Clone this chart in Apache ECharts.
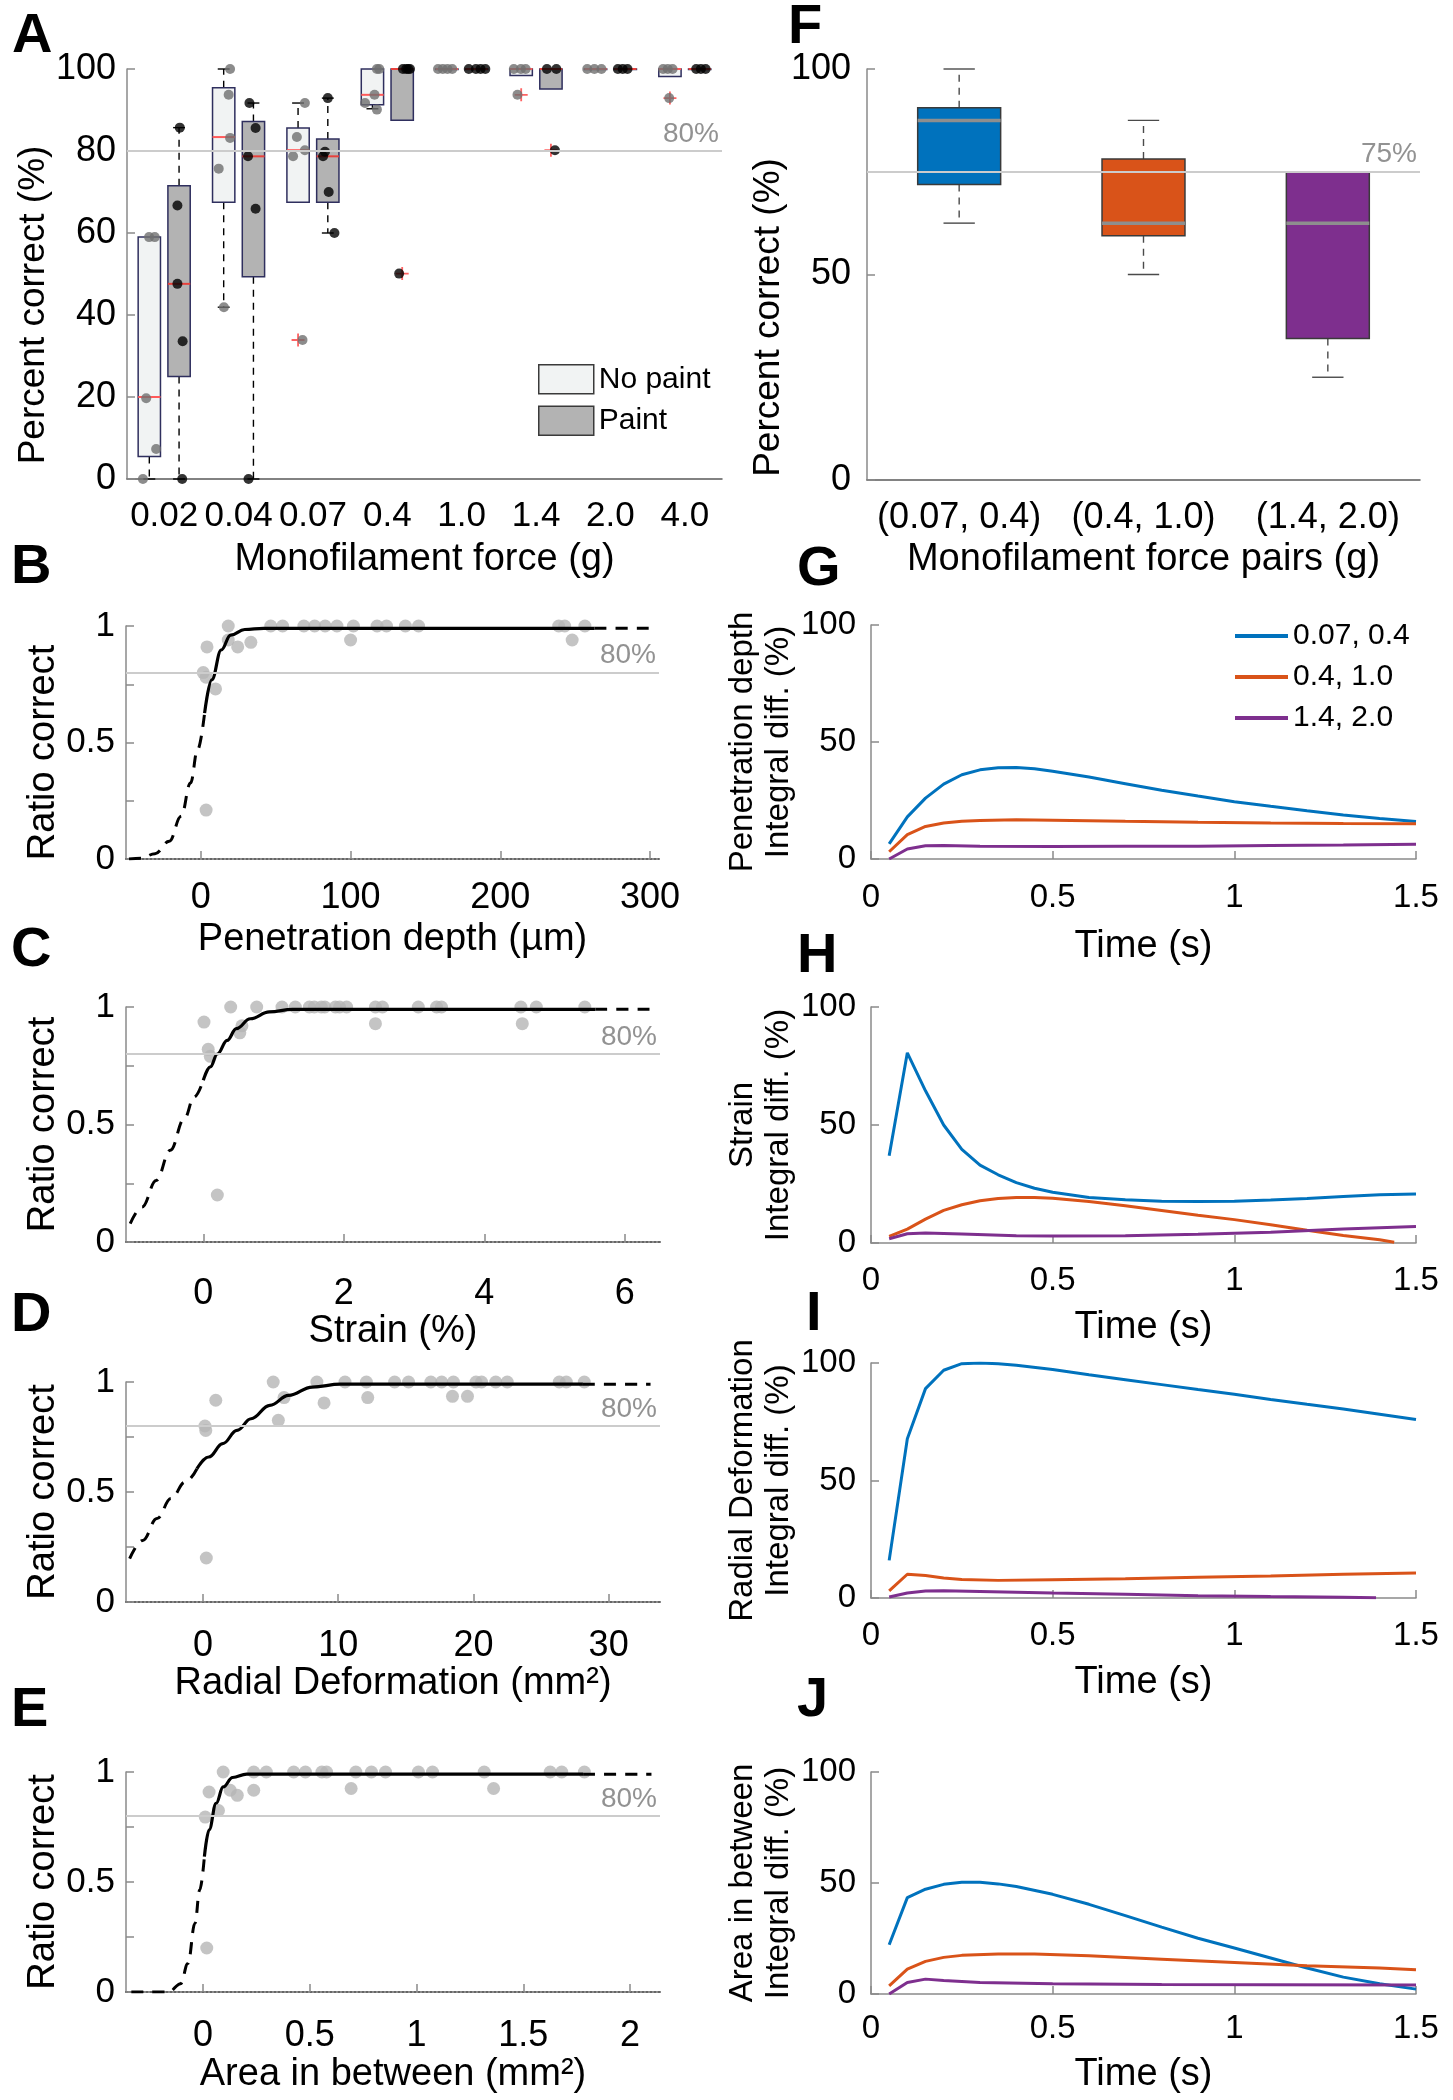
<!DOCTYPE html>
<html lang="en">
<head>
    <meta charset="UTF-8">
    <title>Monofilament discrimination</title>
    <script src="https://cdn.jsdelivr.net/npm/echarts@6.0.0/dist/echarts.min.js"></script>
    <style>
        html, body { margin: 0; padding: 0; background: #fff; }
        #main { width: 1453px; height: 2100px; }
    </style>
</head>
<body>
<div id="main"></div>
<script>
    // ---------- A: percent correct per monofilament ----------
    var forceLabels = ['0.02', '0.04', '0.07', '0.4', '1.0', '1.4', '2.0', '4.0'];
    // [lower whisker, q1, median, q3, upper whisker]
    var noPaintBox = [
        [0, 5.5, 20, 59, 59], [41.9, 67.5, 83.4, 95.4, 100], [78.7, 67.5, 80.2, 85.6, 91.7], [90.3, 91.3, 93.7, 100, 100],
        [100, 100, 100, 100, 100], [100, 98.4, 100, 100, 100], [100, 100, 100, 100, 100], [100, 98.2, 100, 100, 100]
    ];
    var paintBox = [
        [0, 25, 47.6, 71.5, 85.7], [0, 49.3, 78.7, 87.2, 91.7], [60, 67.5, 78.7, 82.9, 92.9], [100, 87.5, 100, 100, 100],
        [100, 100, 100, 100, 100], [100, 95.1, 100, 100, 100], [100, 100, 100, 100, 100], [100, 100, 100, 100, 100]
    ];
    var noPaintDots = [
        [0.714, 0], [0.758, 19.7], [0.797, 59], [0.873, 59], [0.892, 7.3],
        [1.733, 75.7], [1.803, 41.9], [1.867, 93.7], [1.886, 83.2], [1.886, 100],
        [2.733, 78.7], [2.784, 83.4], [2.86, 33.9], [2.892, 80.2], [2.892, 91.7],
        [3.701, 91.7], [3.828, 93.7], [3.86, 100], [3.86, 90.1], [3.892, 100],
        [4.682, 100], [4.746, 100], [4.809, 100], [4.873, 100],
        [5.701, 100], [5.75, 93.7], [5.796, 100], [5.86, 100],
        [6.688, 100], [6.784, 100], [6.879, 100],
        [7.708, 100], [7.771, 100], [7.79, 92.9], [7.835, 100]
    ];
    var paintDots = [
        [1.178, 66.7], [1.178, 47.6], [1.21, 85.7], [1.242, 0], [1.248, 33.6],
        [2.127, 78.7], [2.134, 0], [2.146, 91.7], [2.229, 85.6], [2.229, 65.9],
        [3.136, 78.7], [3.162, 79.8], [3.2, 92.9], [3.212, 70], [3.289, 60],
        [4.159, 50.1], [4.21, 100], [4.254, 100], [4.28, 100], [4.305, 100],
        [5.095, 100], [5.191, 100], [5.254, 100], [5.318, 100],
        [6.146, 100], [6.254, 80.2], [6.273, 100],
        [7.1, 100], [7.165, 100], [7.229, 100],
        [8.153, 100], [8.216, 100], [8.28, 100]
    ];
    // [force index (1-based), value]
    var noPaintOutliers = [[3, 33.9], [6, 93.7], [8, 92.9]];
    var paintOutliers = [[4, 50.1], [6, 80.2]];

    // ---------- F: force pairs ----------
    var pairLabels = ['(0.07, 0.4)', '(0.4, 1.0)', '(1.4, 2.0)'];
    var pairBox = [[62.5, 71.9, 87.5, 90.6, 100], [50, 59.4, 62.5, 78.1, 87.5], [25, 34.4, 62.5, 75, 75]];
    var pairColors = ['#0072BD', '#D95319', '#7E2F8E'];

    // ---------- B-E: ratio correct vs. skin mechanics ----------
    var depthPts = [[18.3, 1], [46.7, 1], [54.6, 1], [68.8, 1], [76, 1], [83, 1], [90.9, 1], [101.9, 1], [117.7, 1], [124, 1],
        [136.6, 1], [145.4, 1], [239, 1], [243, 1], [256.5, 1], [18.3, 0.94], [24.6, 0.91], [33.4, 0.93], [4.1, 0.91],
        [1.6, 0.8], [3.5, 0.78], [9.8, 0.73], [100, 0.94], [248, 0.94], [3.5, 0.21]];
    var depthLow = [[-48, 0], [-40, 0.003], [-30.6, 0.023], [-21.1, 0.076], [-13.2, 0.183], [-6.9, 0.326], [-2.2, 0.469], [2.5, 0.626]];
    var depthFit = [[2.5, 0.626], [7.3, 0.769], [13.6, 0.897], [19.9, 0.961], [29.3, 0.985], [42, 0.99], [263, 0.99]];
    var depthHigh = [[263, 0.99], [301, 0.99]];

    var strainPts = [[0.39, 1], [0.76, 1], [1.12, 1], [1.31, 1], [1.51, 1], [1.58, 1], [1.68, 1], [1.73, 1], [1.88, 1], [1.94, 1],
        [2.04, 1], [2.45, 1], [2.55, 1], [3.06, 1], [3.32, 1], [3.39, 1], [4.52, 1], [4.74, 1], [5.43, 1],
        [0.01, 0.936], [2.45, 0.929], [4.54, 0.929], [0.55, 0.92], [0.52, 0.89], [0.07, 0.82], [0.1, 0.79], [0.2, 0.2]];
    var strainLow = [[-1.04, 0.078], [-0.87, 0.149], [-0.67, 0.262], [-0.47, 0.39], [-0.27, 0.525], [-0.13, 0.617], [0, 0.688]];
    var strainFit = [[0, 0.688], [0.1, 0.745], [0.2, 0.8], [0.34, 0.858], [0.47, 0.908], [0.67, 0.95], [0.94, 0.979], [1.27, 0.99], [5.58, 0.99]];
    var strainHigh = [[5.58, 0.99], [6.37, 0.99]];

    var radialPts = [[5.19, 1], [8.42, 1], [10.5, 1], [12.08, 1], [14.17, 1], [15.2, 1], [16.85, 1], [17.65, 1], [18.52, 1], [20.19, 1],
        [20.6, 1], [21.65, 1], [22.5, 1], [26.35, 1], [26.87, 1], [28.2, 1],
        [0.94, 0.917], [5.99, 0.929], [8.95, 0.905], [12.18, 0.929], [18.45, 0.935], [19.56, 0.935], [0.14, 0.8], [0.2, 0.78],
        [5.57, 0.826], [0.24, 0.2]];
    var radialLow = [[-5.43, 0.197], [-4.46, 0.28], [-3.41, 0.379], [-2.37, 0.47], [-1.32, 0.545], [-0.45, 0.606]];
    var radialFit = [[-0.45, 0.606], [0.42, 0.659], [1.46, 0.72], [2.51, 0.78], [3.55, 0.833], [4.94, 0.894], [6.33, 0.939], [8.08, 0.977], [10.16, 0.99], [28.1, 0.99]];
    var radialHigh = [[28.1, 0.99], [33.1, 0.99]];

    var areaPts = [[0.095, 1], [0.238, 1], [0.297, 1], [0.425, 1], [0.48, 1], [0.557, 1], [0.579, 1], [0.716, 1], [0.789, 1], [0.855, 1],
        [1.009, 1], [1.075, 1], [1.317, 1], [1.626, 1], [1.68, 1], [1.786, 1],
        [0.029, 0.909], [0.128, 0.917], [0.161, 0.894], [0.238, 0.917], [0.694, 0.925], [1.361, 0.925], [0.011, 0.795], [0.073, 0.825], [0.018, 0.2]];
    var areaLow = [[-0.335, 0], [-0.16, 0], [-0.104, 0.038], [-0.07, 0.13], [-0.037, 0.313], [-0.015, 0.464], [0.007, 0.615]];
    var areaFit = [[0.007, 0.615], [0.029, 0.737], [0.062, 0.858], [0.095, 0.932], [0.139, 0.975], [0.205, 0.99], [1.78, 0.99]];
    var areaHigh = [[1.78, 0.99], [2.1, 0.99]];

    // ---------- G-J: integral differences over time ----------
    var pairNames = ['0.07, 0.4', '0.4, 1.0', '1.4, 2.0'];
    var penBlue = [[0.05, 6.5], [0.1, 18], [0.15, 26], [0.2, 32], [0.25, 36], [0.3, 38.1], [0.35, 39], [0.4, 39.1], [0.45, 38.6], [0.5, 37.5],
        [0.6, 35], [0.7, 32.2], [0.8, 29.4], [0.9, 26.9], [1.0, 24.5], [1.1, 22.5], [1.2, 20.6], [1.3, 18.8], [1.4, 17.3], [1.5, 16]];
    var penOrange = [[0.05, 3.1], [0.1, 10.4], [0.15, 13.9], [0.2, 15.4], [0.25, 16.1], [0.3, 16.5], [0.4, 16.8], [0.5, 16.6], [0.7, 16.1],
        [0.9, 15.7], [1.1, 15.4], [1.3, 15.2], [1.5, 15.1]];
    var penPurple = [[0.05, 0], [0.1, 4.3], [0.15, 5.7], [0.2, 5.8], [0.3, 5.4], [0.5, 5.3], [0.7, 5.4], [0.9, 5.5], [1.1, 5.8], [1.3, 6.0], [1.5, 6.3]];

    var strainBlue = [[0.05, 37], [0.1, 80.6], [0.15, 64.5], [0.2, 50], [0.25, 39.7], [0.3, 33], [0.35, 28.9], [0.4, 25.6], [0.45, 23.2], [0.5, 21.5],
        [0.6, 19.3], [0.7, 18.3], [0.8, 17.7], [0.9, 17.6], [1.0, 17.7], [1.1, 18.2], [1.2, 18.9], [1.3, 19.7], [1.4, 20.4], [1.5, 20.8]];
    var strainOrange = [[0.05, 2.8], [0.1, 5.9], [0.15, 10.1], [0.2, 13.8], [0.25, 16.2], [0.3, 17.9], [0.35, 18.9], [0.4, 19.3], [0.45, 19.3], [0.5, 19],
        [0.6, 17.6], [0.7, 15.8], [0.8, 13.8], [0.9, 11.8], [1.0, 9.9], [1.1, 7.7], [1.2, 5.4], [1.3, 3.2], [1.4, 1.4], [1.44, 0.3]];
    var strainPurple = [[0.05, 1.8], [0.1, 3.9], [0.15, 4.2], [0.25, 3.8], [0.4, 3.1], [0.5, 3.0], [0.7, 3.1], [0.9, 3.7], [1.1, 4.6], [1.3, 5.9], [1.5, 7.0]];

    var radialBlue = [[0.05, 16], [0.1, 67.8], [0.15, 89.1], [0.2, 96.9], [0.25, 99.7], [0.3, 100], [0.35, 99.7], [0.4, 99], [0.5, 97.2], [0.6, 95],
        [0.7, 92.9], [0.8, 90.8], [0.9, 88.7], [1.0, 86.7], [1.1, 84.5], [1.2, 82.4], [1.3, 80.4], [1.4, 78.2], [1.5, 76]];
    var radialOrange = [[0.05, 3], [0.1, 10.1], [0.15, 9.6], [0.2, 8.5], [0.25, 7.9], [0.35, 7.5], [0.5, 7.8], [0.7, 8.2], [0.9, 8.8], [1.1, 9.4], [1.3, 10.1], [1.5, 10.6]];
    var radialPurple = [[0.05, 0.4], [0.1, 2.1], [0.15, 3], [0.2, 3.1], [0.3, 2.8], [0.5, 2.1], [0.7, 1.6], [0.9, 1], [1.1, 0.6], [1.3, 0.3], [1.39, 0.1]];

    var areaBlue = [[0.05, 22.2], [0.1, 43.4], [0.15, 47.2], [0.2, 49.4], [0.25, 50.3], [0.3, 50.3], [0.35, 49.6], [0.4, 48.4], [0.5, 44.9], [0.6, 40.4],
        [0.7, 35.3], [0.8, 30.1], [0.9, 25.1], [1.0, 20.7], [1.1, 16.2], [1.2, 11.7], [1.3, 7.6], [1.4, 4.6], [1.5, 2.2]];
    var areaOrange = [[0.05, 3.7], [0.1, 11.2], [0.15, 14.7], [0.2, 16.5], [0.25, 17.4], [0.35, 18], [0.45, 18], [0.6, 17.2], [0.8, 15.7], [1.0, 14.2],
        [1.2, 12.7], [1.4, 11.7], [1.5, 10.9]];
    var areaPurple = [[0.05, 0], [0.1, 5.2], [0.15, 6.7], [0.2, 6.1], [0.3, 5.2], [0.5, 4.6], [0.8, 4.3], [1.1, 4.2], [1.5, 4]];

    var FONT = "'Liberation Sans', Arial, Helvetica, sans-serif";
    var AXIS_GRAY = '#8a8a8a';
    var REF_GRAY = '#cccccc';

    // box drawing for A and F (dashed whiskers, solid caps)
    function boxRenderer(o) {
        return function (params, api) {
            var x = api.value(0) + o.offset;
            var lo = api.value(1), q1 = api.value(2), md = api.value(3), q3 = api.value(4), hi = api.value(5);
            var unit = api.size([1, 0])[0];
            var hw = o.half * unit, cw = o.cap * unit;
            var top = api.coord([x, q3]), bot = api.coord([x, q1]), med = api.coord([x, md]);
            var fill = o.fill || api.visual('color');
            var kids = [];
            var dash = {stroke: o.whisker, lineWidth: 1.4, lineDash: [7, 6]};
            var capStyle = {stroke: o.whisker, lineWidth: 1.4};
            if (hi > q3) {
                var h = api.coord([x, hi]);
                kids.push({type: 'line', shape: {x1: top[0], y1: top[1], x2: h[0], y2: h[1]}, style: dash});
                kids.push({type: 'line', shape: {x1: h[0] - cw, y1: h[1], x2: h[0] + cw, y2: h[1]}, style: capStyle});
            }
            if (lo < q1) {
                var l = api.coord([x, lo]);
                kids.push({type: 'line', shape: {x1: bot[0], y1: bot[1], x2: l[0], y2: l[1]}, style: dash});
                kids.push({type: 'line', shape: {x1: l[0] - cw, y1: l[1], x2: l[0] + cw, y2: l[1]}, style: capStyle});
            }
            kids.push({type: 'rect', shape: {x: top[0] - hw, y: top[1], width: 2 * hw, height: Math.max(bot[1] - top[1], 0.5)},
                style: {fill: fill, stroke: o.stroke, lineWidth: 1.5}});
            kids.push({type: 'line', shape: {x1: med[0] - hw, y1: med[1], x2: med[0] + hw, y2: med[1]},
                style: {stroke: o.median, lineWidth: o.medianWidth}});
            return {type: 'group', children: kids};
        };
    }

    function yAxisOf(grid, min, max, interval, name, nameGap, extra) {
        extra = extra || {};
        var nts = {fontSize: extra.nameSize || 38, color: '#000', fontFamily: FONT};
        if (extra.namePad) nts.padding = extra.namePad;
        if (extra.lineHeight) nts.lineHeight = extra.lineHeight;
        var ax = {
            type: 'value', gridIndex: grid, min: min, max: max, interval: interval,
            name: name, nameLocation: 'middle', nameGap: nameGap, nameTextStyle: nts,
            axisLine: {show: true, onZero: false, lineStyle: {color: AXIS_GRAY, width: 1.5}},
            axisTick: {show: true, inside: true, length: 8, lineStyle: {color: AXIS_GRAY, width: 1.5}},
            axisLabel: {margin: extra.labelMargin || 12, fontSize: extra.labelSize || 36, color: '#000', fontFamily: FONT},
            splitLine: {show: false}
        };
        if (extra.ratio) {
            ax.axisLabel.formatter = function (v) {
                return (v === 0 || v === 0.5 || v === 1) ? String(v) : '';
            };
        }
        return ax;
    }

    function xAxisOf(grid, min, max, name, labelMargin, nameGap, extra) {
        extra = extra || {};
        var ax = {
            type: 'value', gridIndex: grid, min: min, max: max,
            name: name, nameLocation: 'middle', nameGap: nameGap,
            nameTextStyle: {fontSize: extra.nameSize || 38, color: '#000', fontFamily: FONT},
            axisLine: {show: true, onZero: false, lineStyle: {color: extra.dotted ? '#666' : AXIS_GRAY, width: extra.dotted ? 2 : 1.5, type: extra.dotted ? 'dotted' : 'solid'}},
            axisTick: {show: true, inside: true, length: 8, lineStyle: {color: AXIS_GRAY, width: 1.5}},
            axisLabel: {margin: labelMargin, fontSize: extra.labelSize || 36, color: '#000', fontFamily: FONT},
            splitLine: {show: false}
        };
        if (extra.interval) {
            ax.interval = extra.interval;
        } else {
            ax.axisTick.customValues = extra.ticks.slice();
            ax.axisLabel.customValues = extra.ticks.slice();
        }
        return ax;
    }

    function refLine(value, text) {
        return {
            symbol: 'none', silent: true,
            data: [{yAxis: value}],
            lineStyle: {color: REF_GRAY, type: 'solid', width: 2},
            label: {show: true, formatter: text, position: 'insideEndTop', distance: 3, color: '#929292', fontSize: 28, fontFamily: FONT}
        };
    }

    var plusPath = 'path://M4.3,0 H5.7 V4.3 H10 V5.7 H5.7 V10 H4.3 V5.7 H0 V4.3 H4.3 Z';

    function idx(rows) {
        return rows.map(function (b, i) { return [i + 1].concat(b); });
    }

    var series = [];

    // A
    series.push({
        type: 'custom', name: 'No paint', xAxisIndex: 1, yAxisIndex: 0, z: 2,
        renderItem: boxRenderer({offset: -0.2, half: 0.15, cap: 0.08, fill: '#f1f3f3', stroke: '#2f2f5e', median: '#ff5a5a', medianWidth: 2, whisker: '#000'}),
        encode: {x: 0, y: [1, 2, 3, 4, 5]}, data: idx(noPaintBox)
    });
    series.push({
        type: 'custom', name: 'Paint', xAxisIndex: 1, yAxisIndex: 0, z: 2,
        renderItem: boxRenderer({offset: 0.2, half: 0.15, cap: 0.08, fill: '#b3b3b3', stroke: '#2f2f5e', median: '#e8413c', medianWidth: 2, whisker: '#000'}),
        encode: {x: 0, y: [1, 2, 3, 4, 5]}, data: idx(paintBox)
    });
    series.push({
        type: 'scatter', name: 'outliers', xAxisIndex: 1, yAxisIndex: 0, z: 3,
        symbol: plusPath, symbolSize: 13, itemStyle: {color: '#ff3b3b'},
        data: noPaintOutliers.map(function (p) { return [p[0] - 0.2, p[1]]; })
            .concat(paintOutliers.map(function (p) { return [p[0] + 0.2, p[1]]; }))
    });
    series.push({
        type: 'scatter', name: 'no paint subjects', xAxisIndex: 1, yAxisIndex: 0, z: 4,
        symbolSize: 10, itemStyle: {color: '#6f6f6f'}, data: noPaintDots,
        markLine: refLine(80, '80%')
    });
    series.push({
        type: 'scatter', name: 'paint subjects', xAxisIndex: 1, yAxisIndex: 0, z: 4,
        symbolSize: 10, itemStyle: {color: '#000'}, data: paintDots
    });

    // F
    series.push({
        type: 'custom', name: 'pairs', xAxisIndex: 2, yAxisIndex: 1, z: 2,
        renderItem: boxRenderer({offset: 0, half: 0.225, cap: 0.085, stroke: '#3a3a3a', median: '#8e8e8e', medianWidth: 3.5, whisker: '#4a4a4a'}),
        encode: {x: 0, y: [1, 2, 3, 4, 5]},
        data: pairBox.map(function (b, i) { return {value: [i].concat(b), itemStyle: {color: pairColors[i]}}; }),
        markLine: refLine(75, '75%')
    });

    // B-E: points, solid fit, and both dashed extrapolations in one broken series
    var fits = [
        [depthPts, depthLow, depthFit, depthHigh],
        [strainPts, strainLow, strainFit, strainHigh],
        [radialPts, radialLow, radialFit, radialHigh],
        [areaPts, areaLow, areaFit, areaHigh]
    ];
    fits.forEach(function (f, k) {
        var xa = 3 + k, ya = 2 + k;
        series.push({type: 'scatter', xAxisIndex: xa, yAxisIndex: ya, symbolSize: 13, itemStyle: {color: '#b5b5b5'}, data: f[0],
            markLine: refLine(0.8, '80%')});
        series.push({type: 'line', xAxisIndex: xa, yAxisIndex: ya, data: f[1].concat([['-', '-']], f[3]),
            symbol: 'none', smooth: 0.4, smoothMonotone: 'x', connectNulls: false,
            lineStyle: {color: '#000', width: 3, type: [12, 9]}});
        series.push({type: 'line', xAxisIndex: xa, yAxisIndex: ya, data: f[2], symbol: 'none', smooth: 0.4, smoothMonotone: 'x',
            lineStyle: {color: '#000', width: 3.2}});
    });

    // G-J
    var diffs = [
        [penBlue, penOrange, penPurple],
        [strainBlue, strainOrange, strainPurple],
        [radialBlue, radialOrange, radialPurple],
        [areaBlue, areaOrange, areaPurple]
    ];
    diffs.forEach(function (d, k) {
        d.forEach(function (s, j) {
            series.push({type: 'line', name: pairNames[j], xAxisIndex: 7 + k, yAxisIndex: 6 + k, data: s, symbol: 'none',
                color: pairColors[j], lineStyle: {color: pairColors[j], width: 3}});
        });
    });

    var option = {
        animation: false,
        backgroundColor: '#fff',
        textStyle: {fontFamily: FONT},
        grid: [
            {left: 127, top: 69, width: 595, height: 410},
            {left: 867, top: 69, width: 553, height: 411},
            {left: 126, top: 626, width: 533, height: 233},
            {left: 126, top: 1007, width: 534, height: 235},
            {left: 126, top: 1382, width: 534, height: 220},
            {left: 126, top: 1772, width: 534, height: 220},
            {left: 871, top: 625, width: 545, height: 234},
            {left: 871, top: 1007, width: 545, height: 236},
            {left: 871, top: 1363, width: 545, height: 235},
            {left: 871, top: 1772, width: 545, height: 222}
        ],
        xAxis: [
            {
                type: 'category', gridIndex: 0, data: forceLabels, boundaryGap: true,
                name: 'Monofilament force (g)', nameLocation: 'middle', nameGap: 62,
                nameTextStyle: {fontSize: 38, color: '#000', fontFamily: FONT},
                axisLine: {onZero: false, lineStyle: {color: '#5a5a5a', width: 1.5}},
                axisTick: {inside: true, alignWithLabel: true, length: 8, lineStyle: {color: AXIS_GRAY, width: 1.5}},
                axisLabel: {interval: 0, margin: 20, fontSize: 35, color: '#000', fontFamily: FONT}
            },
            {type: 'value', gridIndex: 0, min: 0.5, max: 8.5, show: false, axisLine: {onZero: false}},
            {
                type: 'category', gridIndex: 1, data: pairLabels, boundaryGap: true,
                name: 'Monofilament force pairs (g)', nameLocation: 'middle', nameGap: 61,
                nameTextStyle: {fontSize: 38, color: '#000', fontFamily: FONT},
                axisLine: {onZero: false, lineStyle: {color: '#5a5a5a', width: 1.5}},
                axisTick: {inside: true, alignWithLabel: true, length: 8, lineStyle: {color: AXIS_GRAY, width: 1.5}},
                axisLabel: {interval: 0, margin: 20, fontSize: 36, color: '#000', fontFamily: FONT}
            },
            xAxisOf(2, -50, 306, 'Penetration depth (µm)', 21, 62, {dotted: true, ticks: [0, 100, 200, 300]}),
            xAxisOf(3, -1.1, 6.5, 'Strain (%)', 34, 62, {dotted: true, ticks: [0, 2, 4, 6]}),
            xAxisOf(4, -5.7, 33.8, 'Radial Deformation (mm²)', 26, 57, {dotted: true, ticks: [0, 10, 20, 30]}),
            xAxisOf(5, -0.36, 2.14, 'Area in between (mm²)', 26, 64, {dotted: true, ticks: [0, 0.5, 1, 1.5, 2]}),
            xAxisOf(6, 0, 1.5, 'Time (s)', 22, 69, {interval: 0.5, labelSize: 33}),
            xAxisOf(7, 0, 1.5, 'Time (s)', 21, 66, {interval: 0.5, labelSize: 33}),
            xAxisOf(8, 0, 1.5, 'Time (s)', 21, 66, {interval: 0.5, labelSize: 33}),
            xAxisOf(9, 0, 1.5, 'Time (s)', 18, 62, {interval: 0.5, labelSize: 33})
        ],
        yAxis: [
            yAxisOf(0, 0, 100, 20, 'Percent correct (%)', 66, {nameSize: 37, namePad: [0, 62, 0, 0], labelMargin: 11}),
            yAxisOf(1, 0, 100, 50, 'Percent correct (%)', 57, {nameSize: 37, namePad: [0, 86, 0, 0], labelMargin: 16}),
            yAxisOf(2, 0, 1, 0.25, 'Ratio correct', 61, {namePad: [0, 20, 0, 0], labelMargin: 11, labelSize: 35, ratio: true}),
            yAxisOf(3, 0, 1, 0.25, 'Ratio correct', 61, {labelMargin: 11, labelSize: 35, ratio: true}),
            yAxisOf(4, 0, 1, 0.25, 'Ratio correct', 61, {labelMargin: 11, labelSize: 35, ratio: true}),
            yAxisOf(5, 0, 1, 0.25, 'Ratio correct', 61, {labelMargin: 11, labelSize: 35, ratio: true}),
            yAxisOf(6, 0, 100, 50, 'Penetration depth\nIntegral diff. (%)', 73, {nameSize: 33, lineHeight: 36, labelMargin: 15, labelSize: 33}),
            yAxisOf(7, 0, 100, 50, 'Strain\nIntegral diff. (%)', 73, {nameSize: 33, lineHeight: 36, labelMargin: 15, labelSize: 33}),
            yAxisOf(8, 0, 100, 50, 'Radial Deformation\nIntegral diff. (%)', 73, {nameSize: 33, lineHeight: 36, labelMargin: 15, labelSize: 33}),
            yAxisOf(9, 0, 100, 50, 'Area in between\nIntegral diff. (%)', 73, {nameSize: 33, lineHeight: 36, labelMargin: 15, labelSize: 33})
        ],
        legend: [
            {
                data: [
                    {name: 'No paint', icon: 'rect', itemStyle: {color: '#f1f3f3', borderColor: '#3a3a3a', borderWidth: 1.5}},
                    {name: 'Paint', icon: 'rect', itemStyle: {color: '#b3b3b3', borderColor: '#3a3a3a', borderWidth: 1.5}}
                ],
                orient: 'vertical', left: 538, top: 364, itemWidth: 55, itemHeight: 29, itemGap: 11, padding: 0,
                selectedMode: false, textStyle: {fontSize: 30, color: '#000', fontFamily: FONT}
            },
            {
                data: pairNames.map(function (n) { return {name: n, icon: 'rect'}; }),
                orient: 'vertical', left: 1235, top: 621, itemWidth: 53, itemHeight: 4, itemGap: 11, padding: 0,
                selectedMode: false, textStyle: {fontSize: 30, lineHeight: 30, color: '#000', fontFamily: FONT}
            }
        ],
        graphic: [
            ['A', 12, 37], ['F', 788, 28], ['B', 11, 568], ['G', 797, 570], ['C', 11, 951],
            ['H', 797, 957], ['D', 11, 1316], ['I', 806, 1315], ['E', 11, 1711], ['J', 797, 1701]
        ].map(function (p) {
            return {
                type: 'text', x: p[1], y: p[2], z: 10,
                style: {text: p[0], fill: '#000', font: 'bold 56px ' + FONT, verticalAlign: 'middle', textVerticalAlign: 'middle'}
            };
        }),
        series: series
    };

    var chart = echarts.init(document.getElementById('main'));
    chart.setOption(option);
</script>
</body>
</html>
